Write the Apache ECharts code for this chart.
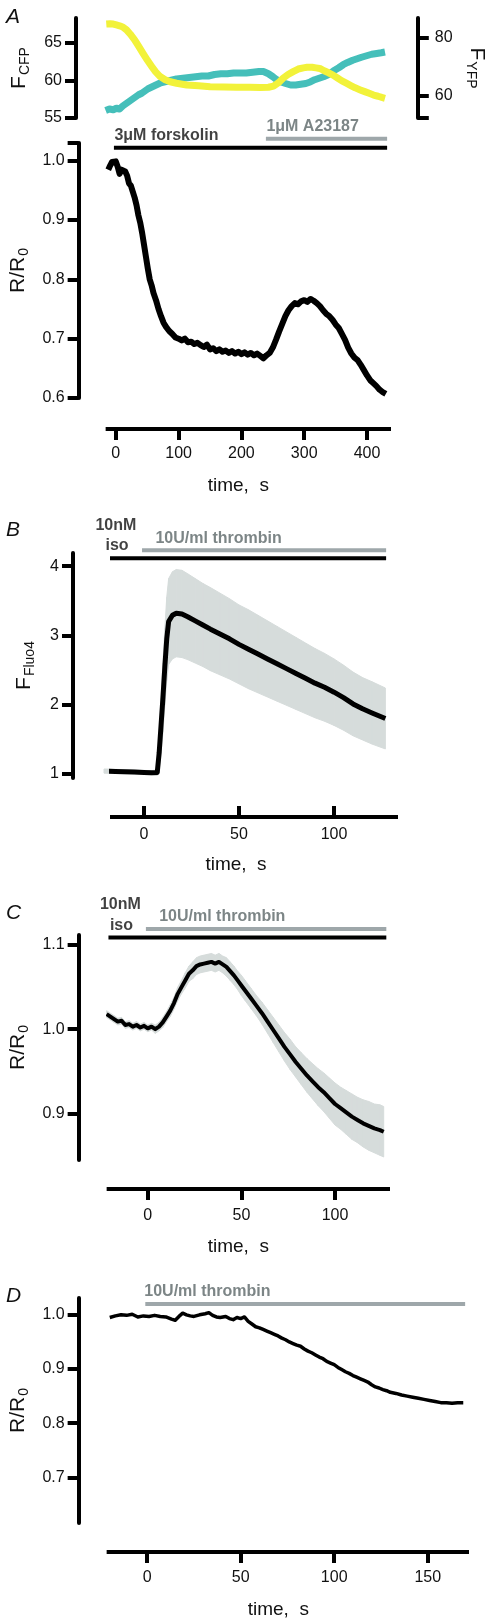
<!DOCTYPE html>
<html><head><meta charset="utf-8">
<script src="https://cdn.jsdelivr.net/npm/echarts@6/dist/echarts.min.js"></script>
<style>html,body{margin:0;padding:0;background:#fff}#c{width:495px;height:1620px}</style>
</head><body><div id="c"></div>
<script>
// ---------- DATA ----------
// Panel A (top): raw fluorescence, time s
const A_CFP = [[-12,56.0],[-6,56.2],[0,56.1],[5,56.3],[10,56.2],[15,56.6],[20,56.9],[25,57.2],[30,57.5],[35,57.8],[40,58.1],[45,58.3],[50,58.6],[55,58.9],[60,59.1],[65,59.3],[70,59.5],[75,59.7],[80,59.8],[85,59.9],[90,60.0],[95,60.1],[100,60.2],[110,60.3],[120,60.4],[130,60.5],[140,60.6],[150,60.6],[160,60.8],[170,60.9],[180,60.9],[190,61.0],[200,61.0],[210,61.0],[220,61.1],[230,61.2],[237,61.2],[245,60.9],[252,60.5],[258,60.1],[265,59.8],[272,59.6],[280,59.4],[288,59.4],[296,59.5],[304,59.6],[311,59.8],[318,60.1],[325,60.3],[332,60.5],[340,60.8],[348,61.3],[356,61.7],[363,62.1],[370,62.4],[378,62.7],[385,62.9],[392,63.1],[400,63.3],[408,63.5],[416,63.6],[423,63.7],[429,63.8]];
const A_YFP = [[-11,84.8],[-5,84.9],[0,84.8],[5,84.5],[10,84.2],[15,83.8],[21,82.8],[27,81.3],[34,79.3],[40,77.2],[47,74.7],[54,72.3],[61,70.1],[67,68.3],[74,66.7],[82,65.6],[90,64.9],[100,64.4],[116,63.8],[135,63.5],[153,63.2],[175,63.1],[195,63.0],[215,63.0],[232,62.9],[245,63.0],[253,63.4],[261,64.6],[268,66.1],[276,67.4],[284,68.4],[292,69.3],[300,69.7],[306,69.9],[314,69.9],[320,69.7],[326,69.5],[333,68.7],[340,68.0],[347,67.2],[354,66.2],[361,65.2],[368,64.4],[375,63.6],[382,62.8],[390,62.1],[397,61.5],[404,60.9],[411,60.3],[418,59.9],[424,59.5],[429,59.2]];
// Panel A (bottom): R/R0
const A_RATIO = [[-12,0.985],[-9,0.992],[-6,0.998],[-3,0.995],[0,0.999],[3,0.990],[6,0.978],[9,0.985],[12,0.983],[15,0.982],[18,0.975],[21,0.962],[24,0.958],[27,0.948],[30,0.938],[33,0.925],[36,0.908],[39,0.895],[42,0.878],[45,0.858],[48,0.838],[51,0.818],[54,0.800],[57,0.790],[60,0.777],[64,0.765],[68,0.750],[72,0.738],[76,0.727],[80,0.720],[85,0.713],[90,0.708],[95,0.702],[100,0.700],[105,0.697],[110,0.700],[115,0.694],[120,0.695],[125,0.691],[130,0.693],[135,0.689],[140,0.686],[145,0.690],[150,0.682],[155,0.684],[160,0.679],[165,0.682],[170,0.678],[175,0.680],[180,0.676],[185,0.679],[190,0.675],[195,0.678],[200,0.674],[205,0.677],[210,0.673],[215,0.676],[220,0.672],[225,0.675],[230,0.671],[235,0.667],[240,0.672],[245,0.676],[250,0.685],[255,0.698],[260,0.712],[265,0.725],[270,0.738],[275,0.748],[280,0.755],[285,0.760],[290,0.758],[295,0.763],[300,0.765],[305,0.762],[310,0.767],[315,0.764],[320,0.760],[325,0.755],[330,0.748],[335,0.742],[340,0.738],[345,0.732],[350,0.724],[355,0.718],[360,0.708],[365,0.698],[370,0.685],[375,0.675],[380,0.668],[385,0.664],[390,0.656],[395,0.647],[400,0.638],[405,0.630],[410,0.625],[415,0.620],[420,0.614],[425,0.610],[430,0.607]];
const A_FORSKOLIN = [-3, 432];
const A_A23187 = [239, 432];
const A_XTICKS = [0, 100, 200, 300, 400];
const A_CFP_TICKS = [55, 60, 65];
const A_YFP_TICKS = [60, 80];
const A_RATIO_TICKS = [0.6, 0.7, 0.8, 0.9, 1.0];

// Panel B: Fluo4, mean and SEM
const B_T    = [-21,-15,-10,-5,0,4,7,8,9,10,11,12,13,15,17,20,23,27,31,35,40,45,50,55,60,65,70,75,80,85,90,95,100,105,110,115,120,127];
const B_MEAN = [1.04,1.035,1.03,1.025,1.02,1.015,1.02,1.30,1.70,2.10,2.55,2.95,3.20,3.29,3.32,3.31,3.27,3.21,3.15,3.09,3.02,2.95,2.87,2.80,2.73,2.66,2.59,2.52,2.45,2.38,2.31,2.25,2.18,2.10,2.01,1.94,1.88,1.80];
const B_SEM  = [0.03,0.03,0.03,0.03,0.03,0.03,0.04,0.25,0.40,0.50,0.55,0.60,0.62,0.63,0.63,0.63,0.62,0.61,0.60,0.60,0.59,0.58,0.57,0.57,0.56,0.55,0.54,0.53,0.52,0.51,0.50,0.49,0.48,0.47,0.46,0.45,0.45,0.44];
const B_ISO = [-21, 127.4];
const B_THROMBIN = [-1, 127.4];
const BC_XTICKS = [0, 50, 100];
const B_YTICKS = [1, 2, 3, 4];

// Panel C: R/R0, mean and SEM
const C_T    = [-22,-20,-18,-16,-14,-12,-10,-8,-6,-4,-2,0,2,4,6,8,10,12,14,16,18,20,22,24,26,28,30,32,34,36,38,40,42,44,46,48,50,52,55,58,61,64,67,70,73,76,79,82,85,88,91,94,97,100,103,106,109,112,115,118,121,124,126];
const C_MEAN = [1.018,1.015,1.012,1.009,1.010,1.005,1.006,1.003,1.005,1.002,1.004,1.001,1.003,1.000,1.003,1.008,1.015,1.022,1.031,1.042,1.050,1.058,1.066,1.070,1.075,1.077,1.078,1.079,1.080,1.078,1.080,1.077,1.074,1.069,1.064,1.058,1.052,1.046,1.037,1.028,1.019,1.009,0.999,0.989,0.979,0.970,0.961,0.953,0.945,0.938,0.931,0.925,0.918,0.911,0.906,0.901,0.896,0.892,0.888,0.885,0.882,0.880,0.878];
const C_SEM  = [0.004,0.004,0.004,0.004,0.004,0.004,0.004,0.004,0.004,0.004,0.004,0.004,0.004,0.005,0.005,0.006,0.006,0.007,0.007,0.008,0.008,0.009,0.009,0.010,0.010,0.010,0.010,0.010,0.010,0.010,0.010,0.010,0.011,0.011,0.011,0.011,0.012,0.012,0.012,0.012,0.013,0.014,0.015,0.016,0.017,0.018,0.018,0.019,0.020,0.021,0.022,0.023,0.024,0.025,0.025,0.026,0.027,0.027,0.028,0.029,0.029,0.030,0.030];
const C_ISO = [-21, 127.4];
const C_THROMBIN = [-1, 127.4];
const C_YTICKS = [0.9, 1.0, 1.1];

// Panel D: R/R0
const D_RATIO = [[-20,0.995],[-17,0.998],[-14,1.000],[-11,0.999],[-8,1.001],[-5,0.996],[-2,0.998],[1,0.997],[4,0.999],[7,0.997],[10,0.996],[13,0.992],[15,0.990],[17,0.997],[19,1.003],[21,1.000],[23,0.998],[25,0.997],[28,1.000],[31,1.002],[33,1.004],[35,0.999],[37,0.996],[39,0.995],[42,0.997],[44,0.993],[46,0.991],[48,0.995],[50,0.993],[52,0.996],[54,0.988],[56,0.983],[58,0.978],[60,0.976],[62,0.973],[64,0.970],[66,0.967],[68,0.964],[70,0.961],[72,0.957],[74,0.954],[76,0.950],[78,0.947],[80,0.944],[82,0.942],[84,0.937],[86,0.933],[88,0.930],[90,0.926],[92,0.922],[94,0.919],[96,0.914],[98,0.911],[100,0.908],[102,0.903],[104,0.899],[106,0.895],[108,0.892],[110,0.888],[112,0.885],[114,0.882],[116,0.879],[118,0.876],[120,0.871],[122,0.867],[124,0.865],[126,0.862],[128,0.860],[130,0.857],[133,0.855],[136,0.852],[139,0.850],[142,0.848],[145,0.846],[148,0.844],[151,0.842],[154,0.840],[157,0.838],[160,0.838],[163,0.837],[166,0.838],[169,0.838]];
const D_THROMBIN = [-1, 170];
const D_XTICKS = [0, 50, 100, 150];
const D_YTICKS = [0.7, 0.8, 0.9, 1.0];

// ---------- CHART ----------
const FONT = '"Liberation Sans", Arial, Helvetica, sans-serif';
const BLACK = '#000';
const GRAY_BAR = '#9ea7aa';
const GRAY_TXT = '#5b6668';
const BAND = '#d6dcdb';
const YELLOW = '#f2f23a';
const CYAN = '#45bfba';

const chart = echarts.init(document.getElementById('c'), null, {renderer: 'canvas'});

function xAx(gi, min, max, ticks, o) {
  o = o || {};
  return {
    gridIndex: gi, type: 'value', min: min, max: max, offset: o.offset || 0,
    axisLine: {show: true, onZero: false, lineStyle: {color: BLACK, width: 4, cap: 'square'}},
    axisTick: {show: true, inside: !!o.inside, length: 11, customValues: ticks, lineStyle: {color: BLACK, width: 4}},
    axisLabel: {customValues: ticks, margin: o.margin || 17, fontSize: 16, color: '#111', fontFamily: FONT},
    splitLine: {show: false},
    name: 'time,  s', nameLocation: 'middle', nameGap: o.nameGap || 47,
    nameTextStyle: {fontSize: 19, color: '#111', fontFamily: FONT, padding: [0, o.namePad || 0, 0, 0]}
  };
}
function yAx(gi, min, max, ticks, fmt, name, o) {
  o = o || {};
  return {
    gridIndex: gi, type: 'value', min: min, max: max, offset: o.offset || 0,
    position: o.position || 'left',
    axisLine: {show: true, onZero: false, lineStyle: {color: BLACK, width: 4}},
    axisTick: {show: true, length: 11, customValues: o.tickValues || ticks, lineStyle: {color: BLACK, width: 4}},
    axisLabel: {customValues: ticks, margin: o.margin || 14, fontSize: 16, color: '#111', fontFamily: FONT, formatter: fmt},
    splitLine: {show: false},
    name: name, nameLocation: 'middle', nameGap: o.nameGap || 44, nameRotate: o.nameRotate || 90,
    nameTextStyle: {color: '#111', fontFamily: FONT, rich: {
      m: {fontSize: 21, fontFamily: FONT, color: '#111'},
      s: {fontSize: 14, fontFamily: FONT, color: '#111', padding: [o.subPad || 12, 0, 0, 1]}
    }}
  };
}
function lineS(xi, yi, data, color, width, z) {
  return {type: 'line', xAxisIndex: xi, yAxisIndex: yi, data: data, symbol: 'none', clip: false,
    silent: true, z: z || 3, lineStyle: {color: color, width: width, join: 'round'}};
}
function barS(xi, yi, range, level, color) {
  return {type: 'line', xAxisIndex: xi, yAxisIndex: yi, data: [[range[0], level], [range[1], level]],
    symbol: 'none', clip: false, silent: true, z: 5, lineStyle: {color: color, width: 4, cap: 'butt'}};
}
function textS(xi, yi, t, v, text, color) {
  return {type: 'scatter', xAxisIndex: xi, yAxisIndex: yi, data: [[t, v]], symbolSize: 1, clip: false, silent: true,
    itemStyle: {color: 'transparent'}, z: 6,
    label: {show: true, formatter: text, position: 'right', distance: 0, color: color, fontSize: 16,
      fontWeight: 'bold', fontFamily: FONT}};
}
function bandS(xi, yi, T, M, E) {
  return {type: 'custom', xAxisIndex: xi, yAxisIndex: yi, clip: false, silent: true, z: 1,
    data: T.map((t, i) => [t, M[i], E[i]]), encode: {x: 0, y: 1},
    renderItem: function (params, api) {
      const i = params.dataIndex;
      if (i >= T.length - 1) return {type: 'group', children: []};
      const pts = [api.coord([T[i], M[i] + E[i]]), api.coord([T[i + 1], M[i + 1] + E[i + 1]]),
        api.coord([T[i + 1], M[i + 1] - E[i + 1]]), api.coord([T[i], M[i] - E[i]])];
      return {type: 'polygon', shape: {points: pts}, style: {fill: BAND, stroke: BAND, lineWidth: 1}};
    }};
}
const f1 = v => v.toFixed(1);
const f0 = v => String(v);

const option = {
  animation: false,
  backgroundColor: '#fff',
  textStyle: {fontFamily: FONT},
  title: [
    {text: 'A', left: 1, top: 2},
    {text: 'B', left: 1, top: 515},
    {text: 'C', left: 1, top: 898},
    {text: 'D', left: 1, top: 1281}
  ].map(t => Object.assign(t, {textStyle: {fontSize: 21, fontStyle: 'italic', fontWeight: 'normal', color: '#111', fontFamily: FONT}})),
  grid: [
    {left: 105, width: 284, top: 18, height: 100},
    {left: 105, width: 284, top: 143, height: 255},
    {left: 112, width: 284, top: 553, height: 225},
    {left: 104, width: 284, top: 935, height: 225},
    {left: 104, width: 363, top: 1298, height: 226}
  ],
  xAxis: [
    {gridIndex: 0, type: 'value', min: -13, max: 435, show: false},
    xAx(1, -13, 435, A_XTICKS, {offset: 31, margin: 17, nameGap: 47, namePad: 20}),
    xAx(2, -16.8, 132.6, BC_XTICKS, {offset: 39, inside: true, margin: 10, nameGap: 38, namePad: 36}),
    xAx(3, -20.9, 128.3, BC_XTICKS, {offset: 29, margin: 19, nameGap: 48, namePad: 20}),
    xAx(4, -20.6, 171, D_XTICKS, {offset: 29, margin: 18, nameGap: 48, namePad: 19})
  ],
  yAxis: [
    yAx(0, 55, 68.33, A_CFP_TICKS, f0, '{m|F}{s|CFP}', {offset: 29, nameGap: 44}),
    yAx(0, 52.4, 86.9, A_YFP_TICKS, f0, '{m|F}{s|YFP}', {offset: 29, position: 'right', margin: 17, nameGap: 44, nameRotate: -90, tickValues: [52.4, 60, 80]}),
    yAx(1, 0.6, 1.03, A_RATIO_TICKS, f1, '{m|R/R}{s|0}', {offset: 29, nameGap: 44, tickValues: [0.6, 0.7, 0.8, 0.9, 1.0, 1.03]}),
    yAx(2, 0.94, 4.19, B_YTICKS, f0, '{m|F}{s|Fluo4}', {offset: 39, nameGap: 36}),
    yAx(3, 0.8444, 1.112, C_YTICKS, f1, '{m|R/R}{s|0}', {offset: 30, nameGap: 44}),
    yAx(4, 0.616, 1.031, D_YTICKS, f1, '{m|R/R}{s|0}', {offset: 30, nameGap: 38})
  ],
  series: [
    // A top
    lineS(0, 0, A_CFP, CYAN, 7, 3),
    lineS(0, 1, A_YFP, YELLOW, 7, 4),
    // A bottom
    lineS(1, 2, A_RATIO, BLACK, 6, 3),
    barS(1, 2, A_FORSKOLIN, 1.0219, BLACK),
    barS(1, 2, A_A23187, 1.0371, GRAY_BAR),
    textS(1, 2, A_FORSKOLIN[0], 1.0432, '3μM forskolin', '#111'),
    textS(1, 2, A_A23187[0], 1.0584, '1μM A23187', GRAY_TXT),
    // B
    bandS(2, 3, B_T, B_MEAN, B_SEM),
    lineS(2, 3, B_T.map((t, i) => [t, B_MEAN[i]]), BLACK, 5, 3),
    barS(2, 3, B_ISO, 4.115, BLACK),
    barS(2, 3, B_THROMBIN, 4.231, GRAY_BAR),
    textS(2, 3, -25.8, 4.59, '10nM', '#111'),
    textS(2, 3, -20.5, 4.30, 'iso', '#111'),
    textS(2, 3, 5.8, 4.40, '10U/ml thrombin', GRAY_TXT),
    // C
    bandS(3, 4, C_T, C_MEAN, C_SEM),
    lineS(3, 4, C_T.map((t, i) => [t, C_MEAN[i]]), BLACK, 4, 3),
    barS(3, 4, C_ISO, 1.109, BLACK),
    barS(3, 4, C_THROMBIN, 1.119, GRAY_BAR),
    textS(3, 4, -25.8, 1.148, '10nM', '#111'),
    textS(3, 4, -20.5, 1.123, 'iso', '#111'),
    textS(3, 4, 5.8, 1.134, '10U/ml thrombin', GRAY_TXT),
    // D
    lineS(4, 5, D_RATIO, BLACK, 3.5, 3),
    barS(4, 5, D_THROMBIN, 1.020, GRAY_BAR),
    textS(4, 5, -1.8, 1.043, '10U/ml thrombin', GRAY_TXT)
  ]
};
chart.setOption(option);
</script></body></html>
